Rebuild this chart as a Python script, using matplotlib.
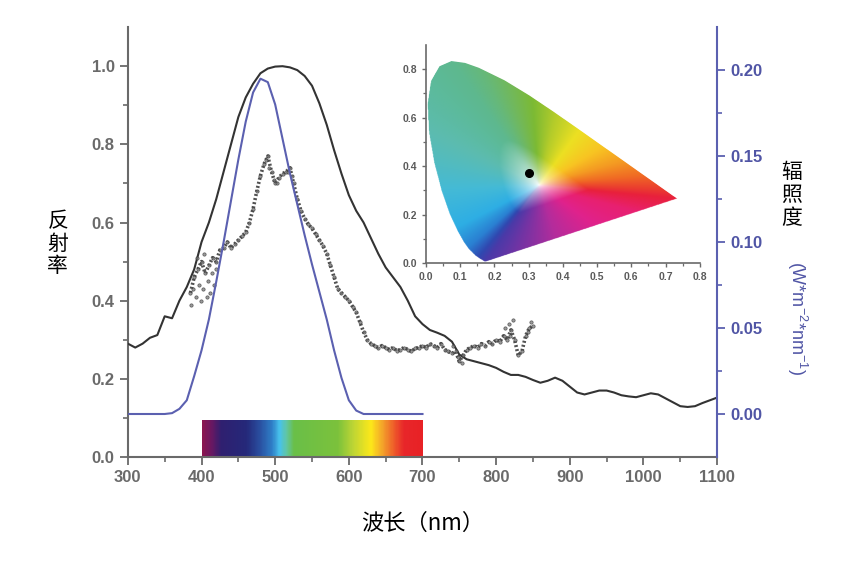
import numpy as np
import matplotlib
matplotlib.use("Agg")
import matplotlib.pyplot as plt
import matplotlib.tri as mtri
from matplotlib.colors import LinearSegmentedColormap, to_rgb
from matplotlib.patches import Polygon
from matplotlib.ticker import FormatStrFormatter

plt.rcParams['font.family'] = ['Liberation Sans', 'Noto Sans CJK SC', 'DejaVu Sans']
plt.rcParams['mathtext.fontset'] = 'custom'
plt.rcParams['mathtext.rm'] = 'Liberation Sans'

# ---- 数据 ----
# 反射率 (黑线)
refl_wl = np.arange(300, 1101, 10)
refl = [0.29, 0.28, 0.29, 0.305, 0.312, 0.36, 0.355, 0.40, 0.435, 0.48,
        0.55, 0.60, 0.66, 0.73, 0.80, 0.87, 0.92, 0.955, 0.982, 0.994,
        0.999, 1.0, 0.997, 0.99, 0.975, 0.95, 0.905, 0.85, 0.785, 0.725,
        0.67, 0.63, 0.60, 0.56, 0.52, 0.485, 0.46, 0.435, 0.40, 0.36,
        0.34, 0.325, 0.318, 0.31, 0.295, 0.262, 0.25, 0.245, 0.24, 0.235,
        0.228, 0.218, 0.21, 0.21, 0.205, 0.197, 0.19, 0.195, 0.203, 0.195,
        0.18, 0.165, 0.16, 0.165, 0.17, 0.17, 0.165, 0.158, 0.155, 0.153,
        0.158, 0.163, 0.16, 0.15, 0.14, 0.13, 0.128, 0.13, 0.138, 0.145,
        0.152]

# 辐照度 (蓝线)
irr_wl = np.arange(300, 701, 10)
irr = [0.0, 0.0, 0.0, 0.0, 0.0, 0.0, 0.0005, 0.003, 0.008, 0.022,
       0.037, 0.055, 0.077, 0.100, 0.124, 0.148, 0.170, 0.187, 0.195, 0.193,
       0.180, 0.160, 0.140, 0.122, 0.104, 0.087, 0.071, 0.055, 0.037, 0.021,
       0.008, 0.002, 0.0, 0.0, 0.0, 0.0, 0.0, 0.0, 0.0, 0.0,
       0.0]

# 测量点 (散点)
pts_wl = np.arange(385, 851, 5)
pts = [0.42, 0.46, 0.48, 0.50, 0.47, 0.49, 0.51, 0.50, 0.53, 0.535,
       0.55, 0.535, 0.545, 0.555, 0.565, 0.575, 0.60, 0.635, 0.68, 0.72,
       0.75, 0.77, 0.73, 0.70, 0.715, 0.725, 0.73, 0.74, 0.70, 0.66,
       0.63, 0.61, 0.595, 0.585, 0.57, 0.555, 0.54, 0.52, 0.49, 0.46,
       0.43, 0.42, 0.41, 0.40, 0.385, 0.37, 0.345, 0.32, 0.30, 0.29,
       0.285, 0.28, 0.285, 0.28, 0.275, 0.28, 0.272, 0.275, 0.28, 0.275,
       0.27, 0.278, 0.28, 0.285, 0.28, 0.29, 0.285, 0.28, 0.29, 0.275,
       0.27, 0.265, 0.27, 0.245, 0.26, 0.275, 0.28, 0.285, 0.28, 0.29,
       0.285, 0.295, 0.29, 0.30, 0.295, 0.31, 0.30, 0.325, 0.30, 0.26,
       0.27, 0.31, 0.33, 0.335]
pts_wl2 = [386, 389, 392, 394, 397, 399, 402, 404, 407, 409, 412, 414, 417, 419,
           487, 492, 498, 503, 518, 523, 742, 748, 753, 812, 817, 819, 823, 843, 847]
pts2 = [0.39, 0.43, 0.41, 0.51, 0.44, 0.40, 0.43, 0.52, 0.41, 0.45, 0.42, 0.47, 0.44, 0.48,
        0.76, 0.74, 0.71, 0.70, 0.73, 0.72, 0.285, 0.255, 0.24, 0.33, 0.34, 0.31, 0.35, 0.32, 0.345]

# CIE 1931 光谱轨迹
locus_x = [0.1741, 0.1714, 0.1644, 0.1566, 0.1440, 0.1241, 0.1096, 0.0913, 0.0687, 0.0454,
           0.0235, 0.0082, 0.0039, 0.0139, 0.0389, 0.0743, 0.1142, 0.1547, 0.2296, 0.3016,
           0.3731, 0.4441, 0.5125, 0.5752, 0.6270, 0.6658, 0.6915, 0.7079, 0.7190, 0.7300,
           0.7347]
locus_y = [0.0050, 0.0051, 0.0109, 0.0177, 0.0297, 0.0578, 0.0868, 0.1327, 0.2007, 0.2950,
           0.4127, 0.5384, 0.6548, 0.7502, 0.8120, 0.8338, 0.8262, 0.8059, 0.7543, 0.6923,
           0.6245, 0.5547, 0.4866, 0.4242, 0.3725, 0.3340, 0.3083, 0.2920, 0.2809, 0.2700,
           0.2653]
point_xy = (0.30, 0.37)

# 色彩锚点 (色度图着色)
anchor_x = [0.17, 0.15, 0.12, 0.08, 0.04, 0.01, 0.02, 0.08, 0.16, 0.24, 0.31, 0.38, 0.45,
            0.52, 0.58, 0.64, 0.70, 0.73, 0.62, 0.50, 0.38, 0.26]
anchor_y = [0.00, 0.02, 0.06, 0.14, 0.30, 0.54, 0.75, 0.83, 0.80, 0.75, 0.69, 0.62, 0.55,
            0.48, 0.42, 0.36, 0.30, 0.265, 0.21, 0.15, 0.10, 0.04]
anchor_c = ['#4a3aa8', '#3048b0', '#2a80d2', '#2eaee4', '#44bad6', '#5cbcb0', '#5cba9a',
            '#5eb88e', '#66b87a', '#72b85a', '#7cba34', '#b4cc2a', '#ece022', '#f8c422',
            '#f49a22', '#f06a24', '#ea3a30', '#e8203c', '#e82070', '#e0228c', '#b42c9c',
            '#7034a4']

# 光谱色条
bar_nm = [400, 412, 425, 460, 478, 495, 505, 515, 525, 585, 605, 630, 645, 662, 675, 700]
bar_c = ['#8a1650', '#6a1862', '#302070', '#25297a', '#2a4fa0', '#2f80c8', '#48c2ec',
         '#62c6a0', '#6abf48', '#7cc23c', '#bcd535', '#fde81a', '#f4a72a', '#ee5a2a',
         '#e8262a', '#e82226']

# ---- 画图 ----
fig = plt.figure(figsize=(8.64, 5.77), dpi=100)
ax = fig.add_axes([0.148, 0.208, 0.682, 0.745])
ax2 = ax.twinx()

grey = '#6a6a6a'
blue = '#5b60b0'

ax.plot(refl_wl, refl, color='#333333', lw=1.5, zorder=3, solid_joinstyle='round')
ax.plot(pts_wl, pts, color='#262626', lw=2.6, ls=(0, (0.55, 0.6)), alpha=0.8, zorder=4)
ax.plot(pts_wl, pts, 'o', ms=2.4, mfc='#7a7a7a', mec='#333333', mew=0.5, alpha=0.75, zorder=4)
ax.plot(pts_wl2, pts2, 'o', ms=2.4, mfc='#7a7a7a', mec='#333333', mew=0.5, alpha=0.75, zorder=4)
ax2.plot(irr_wl, irr, color=blue, lw=1.5, solid_joinstyle='round')

# 光谱色条
pos = [(n - 400) / 300 for n in bar_nm]
cmap = LinearSegmentedColormap.from_list('spec', list(zip(pos, bar_c)))
grad = np.linspace(0, 1, 300).reshape(1, -1)
ax.imshow(grad, cmap=cmap, extent=[400, 700, 0.003, 0.095], aspect='auto', zorder=2)

ax.set_xlim(300, 1100)
ax.set_ylim(0, 1.1)
ax2.set_ylim(-0.025, 0.225)

ax.set_xticks(np.arange(300, 1101, 100))
ax.set_xticks(np.arange(350, 1100, 100), minor=True)
ax.set_yticks(np.arange(0, 1.01, 0.2))
ax.set_yticks(np.arange(0.1, 1.1, 0.2), minor=True)
ax.yaxis.set_major_formatter(FormatStrFormatter('%.1f'))
ax2.set_yticks(np.arange(0, 0.201, 0.05))
ax2.set_yticks(np.arange(0.025, 0.21, 0.05), minor=True)
ax2.yaxis.set_major_formatter(FormatStrFormatter('%.2f'))

for a in (ax, ax2):
    a.spines['top'].set_visible(False)
ax.spines['left'].set_color(grey)
ax.spines['bottom'].set_color(grey)
ax.spines['right'].set_visible(False)
ax2.spines['left'].set_visible(False)
ax2.spines['bottom'].set_visible(False)
ax2.spines['right'].set_color(blue)
for s in ('left', 'bottom'):
    ax.spines[s].set_linewidth(1.5)
ax2.spines['right'].set_linewidth(1.5)

ax.tick_params(which='major', length=6, width=1.3, color=grey, labelsize=12, labelcolor='#6a6a6a')
ax.tick_params(which='minor', length=3.5, width=1.2, color=grey)
ax2.tick_params(which='major', length=6, width=1.3, color=blue, labelsize=12, labelcolor='#5055a5')
ax2.tick_params(which='minor', length=3.5, width=1.2, color=blue)
for lab in ax.get_xticklabels() + ax.get_yticklabels() + ax2.get_yticklabels():
    lab.set_fontweight('bold')

cjk = ['Noto Sans CJK SC', 'DejaVu Sans']
fig.text(0.067, 0.578, '反\n射\n率', family=cjk, fontsize=15, ha='center', va='center', linespacing=1.05)
fig.text(0.916, 0.662, '辐\n照\n度', family=cjk, fontsize=15, ha='center', va='center', linespacing=1.05)
fig.text(0.923, 0.449, r'(W*m$^{-2}$*nm$^{-1}$)', fontsize=13,
         color='#5055a5', rotation=-90, ha='center', va='center')
fig.text(0.489, 0.093, '波长（nm）', family=cjk, fontsize=16, ha='center', va='center')

# ---- 色度图插图 ----
axi = fig.add_axes([0.493, 0.544, 0.317, 0.378])
cx, cy = 0.33, 0.32
tx = np.array([cx] + locus_x)
ty = np.array([cy] + locus_y)
n = len(locus_x)
tris = [[0, i + 1, i + 2] for i in range(n - 1)] + [[0, n, 1]]
tri = mtri.Triangulation(tx, ty, tris)
rz = np.array([0.0] + [1.0] * n)
interp = mtri.LinearTriInterpolator(tri, rz)

gx, gy = np.meshgrid(np.linspace(0, 0.8, 500), np.linspace(0, 0.9, 560))
r = interp(gx, gy)
mask = np.ma.getmaskarray(r)
r = np.ma.filled(r, 1.0)

ang_a = np.arctan2(np.array(anchor_y) - cy, np.array(anchor_x) - cx)
order = np.argsort(ang_a)
ang_a = ang_a[order]
cols = np.array([to_rgb(c) for c in anchor_c])[order]
ang_a = np.concatenate([ang_a[-1:] - 2 * np.pi, ang_a, ang_a[:1] + 2 * np.pi])
cols = np.vstack([cols[-1:], cols, cols[:1]])
ang = np.arctan2(gy - cy, gx - cx)
img = np.zeros(gx.shape + (4,))
f = np.clip(r / 0.36, 0, 1) ** 0.65
for k in range(3):
    ck = np.interp(ang, ang_a, cols[:, k])
    img[..., k] = (1 - f) + ck * f
img[..., 3] = np.where(mask, 0.0, 1.0)
im = axi.imshow(img, origin='lower', extent=[0, 0.8, 0, 0.9], aspect='auto', interpolation='bilinear')
poly = Polygon(np.column_stack([locus_x, locus_y]), closed=True, transform=axi.transData,
               facecolor='none', edgecolor='none')
axi.add_patch(poly)
im.set_clip_path(poly)
axi.plot(*point_xy, 'o', color='black', ms=5.5)

axi.set_xlim(0, 0.8)
axi.set_ylim(0, 0.9)
axi.set_facecolor('none')
axi.spines['top'].set_visible(False)
axi.spines['right'].set_visible(False)
for s in ('left', 'bottom'):
    axi.spines[s].set_color(grey)
    axi.spines[s].set_linewidth(1.2)
axi.set_xticks(np.arange(0, 0.81, 0.1))
axi.set_xticks(np.arange(0.05, 0.8, 0.1), minor=True)
axi.set_yticks(np.arange(0, 0.81, 0.2))
axi.set_yticks(np.arange(0.1, 0.9, 0.2), minor=True)
axi.xaxis.set_major_formatter(FormatStrFormatter('%.1f'))
axi.yaxis.set_major_formatter(FormatStrFormatter('%.1f'))
axi.tick_params(which='major', length=3, width=1.0, color=grey, labelsize=7.5, labelcolor='#5a5a5a')
axi.tick_params(which='minor', length=2, width=0.9, color=grey)
for lab in axi.get_xticklabels() + axi.get_yticklabels():
    lab.set_fontweight('bold')

fig.savefig('out.png', dpi=100)
